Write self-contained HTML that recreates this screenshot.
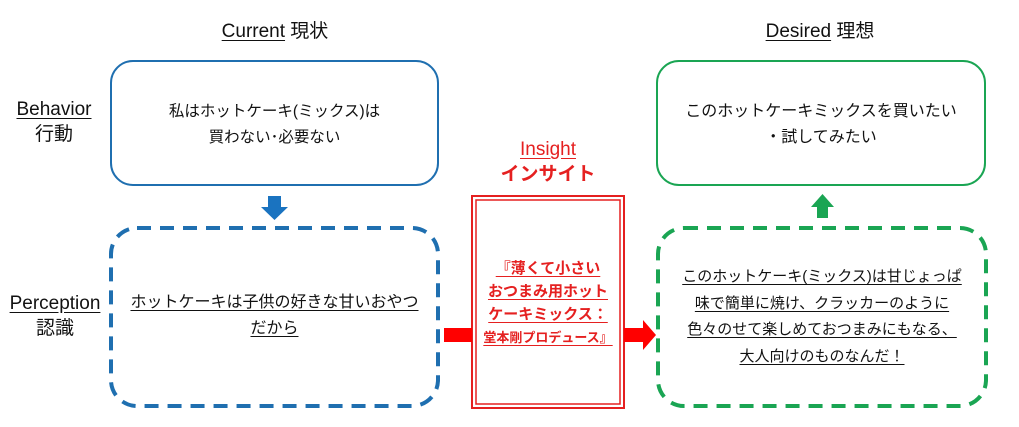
<!DOCTYPE html>
<html><head><meta charset="utf-8"><style>
body{margin:0;width:1019px;height:427px;background:#fff;overflow:hidden;position:relative;font-family:"Liberation Sans","Noto Sans CJK JP",sans-serif;color:#111}
.t{position:absolute;text-align:center;font-size:16px;line-height:26px;white-space:nowrap}
u{text-decoration:underline;text-underline-offset:3px}
</style></head><body>
<svg width="1019" height="427" style="position:absolute;left:0;top:0">
<rect x="111" y="61" width="327" height="124" rx="22" fill="none" stroke="#1f6fb0" stroke-width="2"/>
<rect x="111" y="228" width="327" height="178" rx="26" fill="none" stroke="#1f6fb0" stroke-width="4" stroke-dasharray="14,9"/>
<rect x="657" y="61" width="328" height="124" rx="22" fill="none" stroke="#1aa553" stroke-width="2"/>
<rect x="658" y="228" width="328" height="178" rx="26" fill="none" stroke="#1aa553" stroke-width="4" stroke-dasharray="14,9"/>
<rect x="472" y="196" width="152" height="212" fill="none" stroke="#e52020" stroke-width="2"/>
<rect x="476" y="200" width="144" height="204" fill="none" stroke="#e52020" stroke-width="1.5"/>
<polygon points="268,196 281,196 281,207 288,207 274.5,220 261,207 268,207" fill="#1a73c0"/>
<polygon points="817,218 828,218 828,207 834,207 822.5,194 811,207 817,207" fill="#1aa553"/>
<rect x="444" y="328" width="28" height="14" fill="#f00"/>
<polygon points="624,328 643,328 643,320 656,335 643,350 643,342 624,342" fill="#f00"/>
</svg>
<div class="t" style="left:175px;top:19px;width:200px;font-size:19px"><u>Current</u> 現状</div>
<div class="t" style="left:720px;top:19px;width:200px;font-size:19px"><u>Desired</u> 理想</div>
<div class="t" style="left:0;top:97px;width:108px;font-size:19px;line-height:25px"><u>Behavior</u><br>行動</div>
<div class="t" style="left:0;top:291px;width:110px;font-size:19px;line-height:25px"><u>Perception</u><br>認識</div>
<div class="t" style="left:111px;top:99px;width:327px;font-size:15.5px">私はホットケーキ(ミックス)は<br>買わない･必要ない</div>
<div class="t" style="left:111px;top:290px;width:327px"><u>ホットケーキは子供の好きな甘いおやつ</u><br><u>だから</u></div>
<div class="t" style="left:657px;top:99px;width:328px">このホットケーキミックスを買いたい<br>・試してみたい</div>
<div class="t" style="left:658px;top:264px;width:328px;font-size:15px;line-height:26.5px"><u>このホットケーキ(ミックス)は甘じょっぱ</u><br><u>味で簡単に焼け、クラッカーのように</u><br><u>色々のせて楽しめておつまみにもなる、</u><br><u>大人向けのものなんだ！</u></div>
<div class="t" style="left:448px;top:137px;width:200px;color:#e52020;font-size:19px;line-height:25px"><u>Insight</u><br><b>インサイト</b></div>
<div class="t" style="left:472px;top:257px;width:152px;color:#e52020;font-weight:bold;font-size:15px;line-height:23px"><u>『薄くて小さい</u><br><u>おつまみ用ホット</u><br><u>ケーキミックス：</u><br><u style="font-size:13px">堂本剛プロデュース』</u></div>
</body></html>
